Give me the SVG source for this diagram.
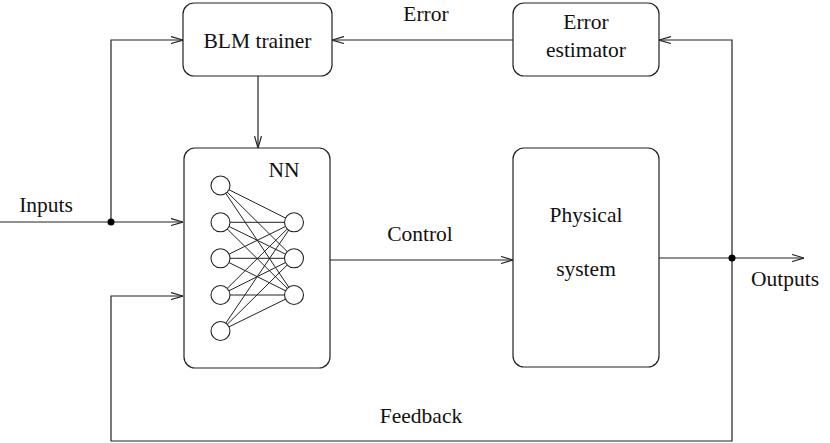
<svg xmlns="http://www.w3.org/2000/svg" width="830" height="443" viewBox="0 0 830 443">
<defs>
<style>
.box{fill:#fff;stroke:#222;stroke-width:1.2}
.ln{fill:none;stroke:#222;stroke-width:1.2}
.arr{fill:none;stroke:#222;stroke-width:1.2;marker-end:url(#ah)}
.t{font-family:'Liberation Serif','Times New Roman',Times,serif;font-size:21.5px;fill:#111;text-anchor:middle}
.nn{fill:#fff;stroke:#222;stroke-width:1.1}
.w{stroke:#222;stroke-width:1}
</style>
<marker id="ah" viewBox="0 0 12 8" refX="12" refY="4" markerWidth="12" markerHeight="8" markerUnits="userSpaceOnUse" orient="auto">
<polyline points="0,0.5 12,4 0,7.5" fill="none" stroke="#222" stroke-width="1.2"/>
</marker>
</defs>
<rect width="830" height="443" fill="#fff"/>
<g id="connectors">
<polyline class="arr" points="111,222 111,40 183,40"/>
<line class="arr" x1="0" y1="222" x2="183" y2="222"/>
<polyline class="arr" points="732,258 732,441 111,441 111,296 183,296"/>
<line class="arr" x1="513" y1="40" x2="332" y2="40"/>
<polyline class="arr" points="732,258 732,40 659,40"/>
<line class="arr" x1="258" y1="76" x2="258" y2="148"/>
<line class="arr" x1="330" y1="260" x2="513" y2="260"/>
<line class="arr" x1="659" y1="258" x2="804" y2="258"/>
<circle cx="111" cy="222" r="3.5" fill="#000"/>
<circle cx="732" cy="258" r="3.5" fill="#000"/>
<text class="t" x="426" y="21">Error</text>
<text class="t" x="420" y="241">Control</text>
<text class="t" x="421" y="423">Feedback</text>
<text class="t" x="46" y="212">Inputs</text>
<text class="t" x="785" y="286">Outputs</text>
</g>
<g id="blm">
<rect class="box" x="183" y="3" width="149" height="73" rx="11"/>
<text class="t" x="257.5" y="48">BLM trainer</text>
</g>
<g id="err">
<rect class="box" x="513" y="3" width="146" height="73" rx="11"/>
<text class="t" x="586" y="29">Error</text>
<text class="t" x="586" y="57">estimator</text>
</g>
<g id="phys">
<rect class="box" x="513" y="148" width="146" height="219" rx="11"/>
<text class="t" x="586" y="222">Physical</text>
<text class="t" x="586" y="276">system</text>
</g>
<g id="nn">
<rect class="box" x="184" y="148" width="146" height="220" rx="11"/>
<text class="t" x="284" y="177">NN</text>
<g class="w">
<line x1="220.5" y1="185.5" x2="294" y2="222.3"/><line x1="220.5" y1="185.5" x2="294" y2="258.3"/><line x1="220.5" y1="185.5" x2="294" y2="295"/>
<line x1="220.5" y1="222.3" x2="294" y2="222.3"/><line x1="220.5" y1="222.3" x2="294" y2="258.3"/><line x1="220.5" y1="222.3" x2="294" y2="295"/>
<line x1="220.5" y1="258.3" x2="294" y2="222.3"/><line x1="220.5" y1="258.3" x2="294" y2="258.3"/><line x1="220.5" y1="258.3" x2="294" y2="295"/>
<line x1="220.5" y1="295" x2="294" y2="222.3"/><line x1="220.5" y1="295" x2="294" y2="258.3"/><line x1="220.5" y1="295" x2="294" y2="295"/>
<line x1="220.5" y1="331" x2="294" y2="222.3"/><line x1="220.5" y1="331" x2="294" y2="258.3"/><line x1="220.5" y1="331" x2="294" y2="295"/>
</g>
<circle class="nn" cx="220.5" cy="185.5" r="9.5"/>
<circle class="nn" cx="220.5" cy="222.3" r="9.5"/>
<circle class="nn" cx="220.5" cy="258.3" r="9.5"/>
<circle class="nn" cx="220.5" cy="295" r="9.5"/>
<circle class="nn" cx="220.5" cy="331" r="9.5"/>
<circle class="nn" cx="294" cy="222.3" r="9.5"/>
<circle class="nn" cx="294" cy="258.3" r="9.5"/>
<circle class="nn" cx="294" cy="295" r="9.5"/>
</g>
</svg>
